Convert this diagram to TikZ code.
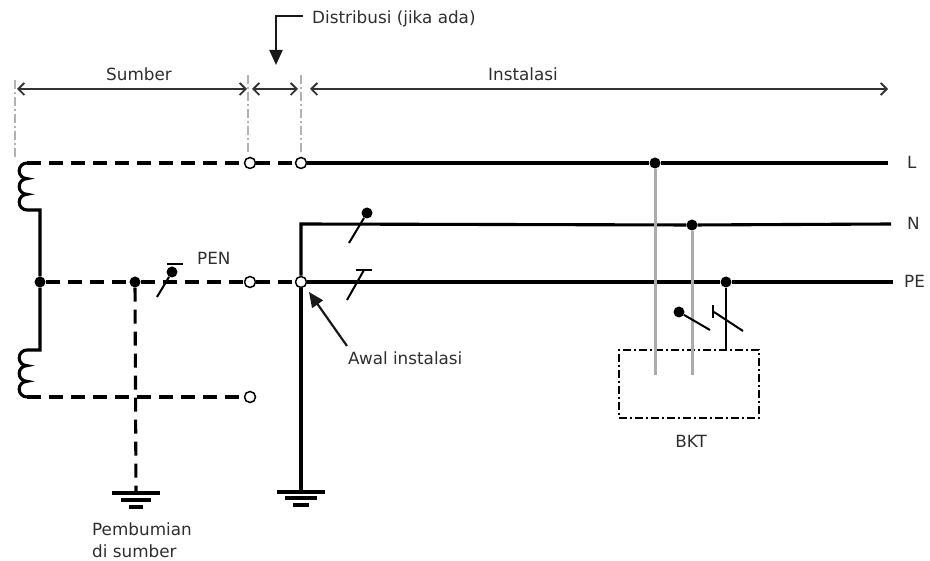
\documentclass[tikz,border=0pt]{standalone}
\usepackage{fontspec}
\setmainfont{DejaVu Sans}
\usetikzlibrary{arrows.meta}
\begin{document}
\begin{tikzpicture}[x=1pt,y=-1pt,
  wire/.style={line width=3.1pt},
  dwire/.style={line width=3.1pt, dash pattern=on 14pt off 8pt},
  swl/.style={line width=2pt},
  grayw/.style={line width=3pt, black!33},
  guide/.style={line width=1.4pt, black!30, dash pattern=on 9pt off 3pt on 2pt off 3pt},
  dimarrow/.style={line width=1.8pt, black!80, {Straight Barb[length=6pt,width=12pt]}-{Straight Barb[length=6pt,width=12pt]}},
  pointer/.style={line width=2.2pt, black!90, -{Triangle[length=15pt,width=13pt]}},
  tterm/.style={circle, draw, fill=white, inner sep=0pt, minimum size=11pt, line width=1.5pt},
  jdot/.style={circle, fill=black, inner sep=0pt, minimum size=11pt},
  lbl/.style={font=\fontsize{16.8}{21}\selectfont, text=black!82, inner sep=0pt},
  gbar/.style={line width=3.1pt}
]
\useasboundingbox (0,0) rectangle (930,561);

% ---------- coordinates ----------
\coordinate (cT) at (27,163);
\coordinate (jTop) at (40,210);
\coordinate (jBot) at (40,350);
\coordinate (cBt) at (27,350);
\coordinate (cB) at (27,397);
\coordinate (Lend) at (888,163);
\coordinate (Nc) at (301,224);
\coordinate (Nend) at (891,224);
\coordinate (PEend) at (893,282);
\coordinate (gL) at (136,493);
\coordinate (gR) at (301,492);
\coordinate (bL) at (655,375);
\coordinate (bN) at (692,375);
\coordinate (bP) at (726,350);

% ---------- terminals and junctions ----------
\node[tterm] (tL1) at (250,163) {};
\node[tterm] (tL2) at (301,163) {};
\node[tterm] (tP1) at (250,282) {};
\node[tterm] (tP2) at (301,282) {};
\node[tterm] (tB) at (250,397) {};
\node[jdot] (jS) at (40,282) {};
\node[jdot] (jE) at (135,282) {};
\node[jdot] (jL) at (655,163) {};
\node[jdot] (jN) at (692,225) {};
\node[jdot] (jPE) at (726,282) {};

% ---------- dimension guides ----------
\coordinate (gA0) at (15,80);  \coordinate (gA1) at (15,157);
\coordinate (gB0) at (248,75); \coordinate (gB1) at (248,152);
\coordinate (gC0) at (301,75); \coordinate (gC1) at (301,152);
\draw[guide] (gA0) -- (gA1);
\draw[guide] (gB0) -- (gB1);
\draw[guide] (gC0) -- (gC1);
\coordinate (dA) at (17,89);  \coordinate (dB) at (247,89);
\coordinate (dC) at (252,89); \coordinate (dD) at (298,89);
\coordinate (dE) at (310,89); \coordinate (dF) at (888,89);
\draw[dimarrow] (dA) -- (dB);
\draw[dimarrow] (dC) -- (dD);
\draw[dimarrow] (dE) -- (dF);
\node[lbl, anchor=base] (tSumber) at (139,81) {Sumber};
\node[lbl, anchor=base] (tInst) at (523,81) {Instalasi};
\node[lbl, anchor=base west] (tDist) at (312,24) {Distribusi (jika ada)};
\coordinate (dTip) at (276,65);
\draw[pointer] ([xshift=-9pt,yshift=3pt]tDist.west) -| (dTip);

% ---------- source windings ----------
\draw[wire] (cT) arc[start angle=270,end angle=90,radius=7.83]
  arc[start angle=270,end angle=90,radius=7.83]
  arc[start angle=270,end angle=90,radius=7.83] -- (jTop) -- (jS);
\draw[wire] (jS) -- (jBot) -- (cBt)
  arc[start angle=270,end angle=90,radius=7.83]
  arc[start angle=270,end angle=90,radius=7.83]
  arc[start angle=270,end angle=90,radius=7.83];

% ---------- L ----------
\draw[dwire] (cT) -- (tL1);
\draw[dwire] (tL1) -- (tL2);
\draw[wire] (tL2) -- (jL) -- (Lend);
\node[lbl, anchor=base west] (tLL) at (907,169) {L};

% ---------- PEN / PE ----------
\draw[dwire] (jS) -- (jE);
\draw[dwire] (jE) -- (tP1);
\draw[dwire] (tP1) -- (tP2);
\draw[wire] (tP2) -- (jPE) -- (PEend);
\node[lbl, anchor=base west] (tPE) at (904,288) {PE};
\node[lbl, anchor=base west] (tPEN) at (197,265) {PEN};

% ---------- N ----------
\draw[wire, line join=miter] (tP2) -- (Nc) -- (jN) -- (Nend);
\node[lbl, anchor=base west] (tN) at (907,230) {N};

% ---------- lower winding line ----------
\draw[dwire] (cB) -- (tB);

% ---------- earthing ----------
\draw[dwire] (jE) -- (gL);
\draw[gbar] (gL) ++(-24,0) -- ++(48,0);
\draw[gbar] (gL) ++(-15,7) -- ++(30,0);
\draw[gbar] (gL) ++(-7,14) -- ++(14,0);
\draw[wire] (tP2) -- (gR);
\draw[gbar] (gR) ++(-24,0) -- ++(48,0);
\draw[gbar] (gR) ++(-16,6) -- ++(32,0);
\draw[gbar] (gR) ++(-8,13) -- ++(16,0);
\node[lbl, anchor=base west, align=left] (tPemb) at (92,557) {Pembumian\\di sumber};

% ---------- switches ----------
\node[jdot] (s1d) at (172,272) {};
\coordinate (s1a) at (157,297);
\coordinate (s1t) at (175,264);
\draw[swl] (s1a) -- (s1d);
\draw[swl] (s1t) ++(-8,0) -- ++(16,0);

\node[jdot] (s2d) at (367,213) {};
\coordinate (s2a) at (349,243);
\draw[swl] (s2a) -- (s2d);

\coordinate (s3a) at (347,300);
\coordinate (s3t) at (364,270);
\draw[swl] (s3a) -- (s3t);
\draw[swl] (s3t) ++(-8,0) -- ++(16,0);

% ---------- start of installation ----------
\node[lbl, anchor=base west] (tAwal) at (348,365) {Awal instalasi};
\coordinate (awTail) at (347,346);
\coordinate (awTip) at (309,292);
\draw[pointer] (awTail) -- (awTip);

% ---------- exposed conductive part ----------
\node[draw, line width=1.5pt, dash pattern=on 8pt off 3pt on 2pt off 3pt,
      minimum width=140pt, minimum height=68pt, inner sep=0pt] (bkt) at (689,384) {};
\draw[grayw] (jL) -- (bL);
\draw[grayw] (jN) -- (bN);
\draw[line width=2pt] (jPE) -- (bP);
\node[jdot] (s4d) at (679,312) {};
\coordinate (s4e) at (710,330);
\draw[swl] (s4d) -- (s4e);
\coordinate (s5a) at (714,312);
\coordinate (s5e) at (743,331);
\draw[swl] (s5a) -- (s5e);
\draw[swl] (s5a) ++(-1,-7) -- ++(0,13);
\node[lbl, anchor=base] (tBKT) at (691,448) {BKT};
\end{tikzpicture}
\end{document}
